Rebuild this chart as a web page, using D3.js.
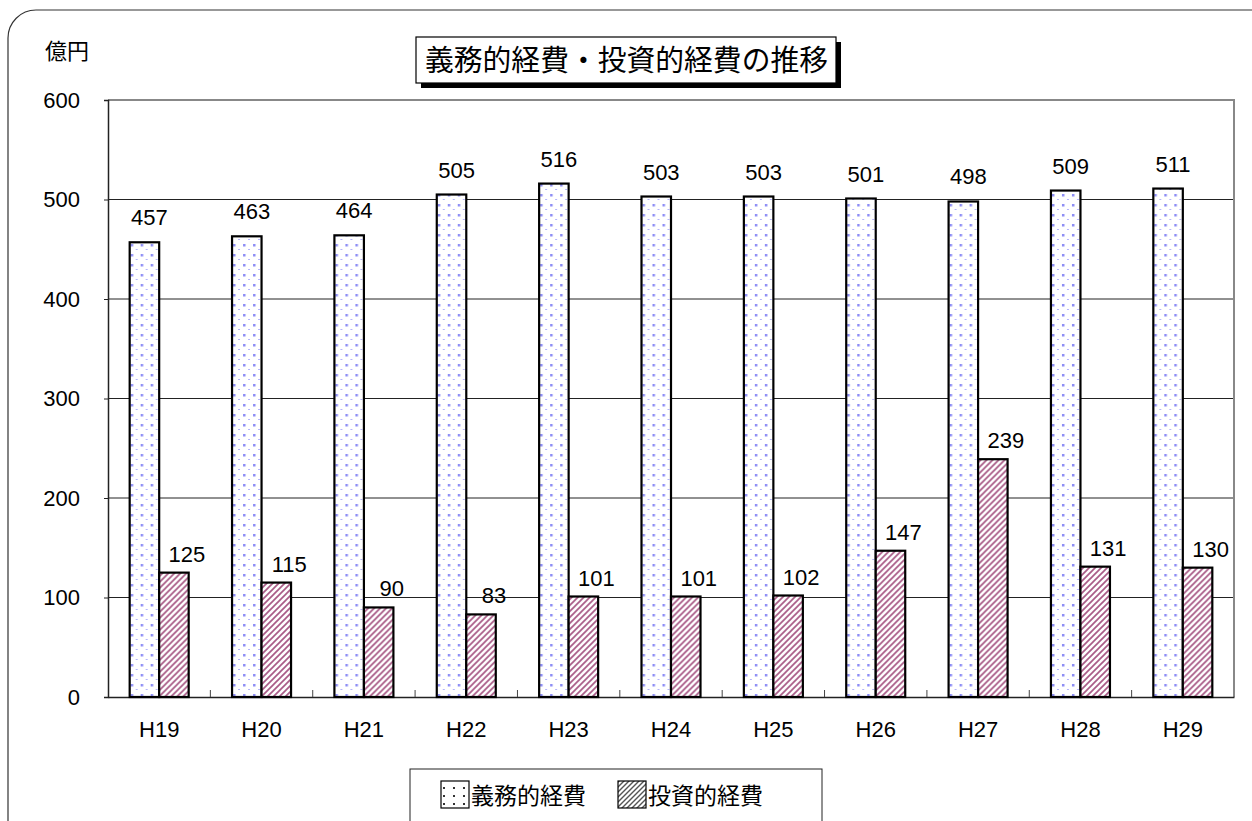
<!DOCTYPE html>
<html lang="ja">
<head>
<meta charset="UTF-8">
<title>義務的経費・投資的経費の推移</title>
<script src="https://d3js.org/d3.v7.min.js"></script>
<style>
  body { margin: 0; background: #fff; }
  svg { display: block; font-family: "Noto Sans CJK JP", "Noto Sans", sans-serif; }
</style>
</head>
<body>
<div id="chart"></div>
<script>
// data
const years = ["H19", "H20", "H21", "H22", "H23", "H24", "H25", "H26", "H27", "H28", "H29"];
const mandatory = [457, 463, 464, 505, 516, 503, 503, 501, 498, 509, 511];   // 義務的経費
const investment = [125, 115, 90, 83, 101, 101, 102, 147, 239, 131, 130];    // 投資的経費
const seriesNames = ["義務的経費", "投資的経費"];
const yTicks = [0, 100, 200, 300, 400, 500, 600];

const width = 1252, height = 821;
const plot = { left: 108, right: 1234, top: 100, bottom: 697 };
const numFont = "'Liberation Sans', Arial, sans-serif";

const svg = d3.select("#chart").append("svg")
  .attr("width", width).attr("height", height);

// patterns
const defs = svg.append("defs");
const dots = defs.append("pattern").attr("id", "dots")
  .attr("patternUnits", "userSpaceOnUse").attr("width", 10).attr("height", 10);
dots.append("rect").attr("width", 10).attr("height", 10).attr("fill", "#fff");
dots.append("rect").attr("x", 1).attr("y", 4).attr("width", 2.5).attr("height", 2.5).attr("fill", "#8d8df5");
dots.append("rect").attr("x", 6).attr("y", 9).attr("width", 2).attr("height", 1).attr("fill", "#b4b4fb");

const stripes = defs.append("pattern").attr("id", "stripes")
  .attr("patternUnits", "userSpaceOnUse").attr("width", 6).attr("height", 6);
stripes.append("rect").attr("width", 6).attr("height", 6).attr("fill", "#fff");
stripes.append("path").attr("d", "M-1,1 l2,-2 M0,6 l6,-6 M5,7 l2,-2")
  .attr("stroke", "#a85a86").attr("stroke-width", 1.7);

const legDots = defs.append("pattern").attr("id", "legdots")
  .attr("patternUnits", "userSpaceOnUse").attr("width", 10).attr("height", 8);
legDots.append("rect").attr("width", 10).attr("height", 8).attr("fill", "#fff");
legDots.append("rect").attr("x", 3).attr("y", 3).attr("width", 2).attr("height", 2).attr("fill", "#333");

const legStripes = defs.append("pattern").attr("id", "legstripes")
  .attr("patternUnits", "userSpaceOnUse").attr("width", 5).attr("height", 5);
legStripes.append("rect").attr("width", 5).attr("height", 5).attr("fill", "#fff");
legStripes.append("path").attr("d", "M-1,1 l2,-2 M0,5 l5,-5 M4,6 l2,-2")
  .attr("stroke", "#555").attr("stroke-width", 1.4);

// outer rounded frame
svg.append("rect")
  .attr("x", 8).attr("y", 10).attr("width", 1272).attr("height", 840)
  .attr("rx", 28).attr("ry", 28)
  .attr("fill", "none").attr("stroke", "#333").attr("stroke-width", 1.2);

// scales
const x = d3.scaleBand().domain(years).range([plot.left, plot.right]);
const y = d3.scaleLinear().domain([0, 600]).range([plot.bottom, plot.top]);
const barW = 29.5;

// grid lines
svg.append("g").selectAll("line")
  .data(yTicks.filter(d => d > 0 && d < 600))
  .join("line")
  .attr("x1", plot.left).attr("x2", plot.right)
  .attr("y1", d => y(d)).attr("y2", d => y(d))
  .attr("stroke", "#222").attr("stroke-width", 1);

// plot frame top/right (gray)
svg.append("path")
  .attr("d", `M${plot.left},${y(600)} H${plot.right} V${plot.bottom}`)
  .attr("fill", "none").attr("stroke", "#888").attr("stroke-width", 2);

// y axis
const yAxis = svg.append("g")
  .attr("transform", `translate(${plot.left},0)`)
  .call(d3.axisLeft(y).tickValues(yTicks).tickSize(4).tickPadding(24));
yAxis.select(".domain").attr("stroke", "#222").attr("stroke-width", 1.5);
yAxis.selectAll(".tick line").attr("stroke", "#222");
yAxis.selectAll("text").attr("font-size", 22).attr("fill", "#000")
  .attr("font-family", numFont);

// x axis
const xAxis = svg.append("g")
  .attr("transform", `translate(0,${plot.bottom})`)
  .call(d3.axisBottom(x).tickSize(0).tickPadding(24));
xAxis.select(".domain").attr("stroke", "#222").attr("stroke-width", 1.5);
xAxis.selectAll("text").attr("font-size", 22).attr("fill", "#000")
  .attr("font-family", numFont);
// upward tick marks at category boundaries
svg.append("g").selectAll("line")
  .data(years.slice(1))
  .join("line")
  .attr("x1", d => x(d)).attr("x2", d => x(d))
  .attr("y1", plot.bottom).attr("y2", plot.bottom - 7)
  .attr("stroke", "#444").attr("stroke-width", 1);

// bars
const rows = years.map((yr, i) => ({ yr, vals: [mandatory[i], investment[i]] }));
const fills = ["url(#dots)", "url(#stripes)"];
const labelShift = [5, 13];
const labelGap = [17, 11];

const groups = svg.append("g").selectAll("g")
  .data(rows)
  .join("g")
  .attr("transform", d => `translate(${x(d.yr) + x.bandwidth() / 2 - barW},0)`);

groups.selectAll("rect")
  .data(d => d.vals.map((v, k) => ({ v, k })))
  .join("rect")
  .attr("x", d => d.k * barW)
  .attr("y", d => y(d.v))
  .attr("width", barW)
  .attr("height", d => y(0) - y(d.v))
  .attr("fill", d => fills[d.k])
  .attr("stroke", "#000").attr("stroke-width", 2.2);

groups.selectAll("text")
  .data(d => d.vals.map((v, k) => ({ v, k })))
  .join("text")
  .attr("x", d => d.k * barW + barW / 2 + labelShift[d.k])
  .attr("y", d => y(d.v) - labelGap[d.k])
  .attr("text-anchor", "middle")
  .attr("font-size", 22)
  .attr("font-family", numFont)
  .text(d => d.v);

// unit label
svg.append("text").attr("x", 45).attr("y", 59)
  .attr("font-size", 22).text("億円");

// title box with shadow
const tb = { x: 416, y: 37, w: 420, h: 46 };
svg.append("rect").attr("x", tb.x + 5).attr("y", tb.y + 5)
  .attr("width", tb.w).attr("height", tb.h).attr("fill", "#000");
svg.append("rect").attr("x", tb.x).attr("y", tb.y)
  .attr("width", tb.w).attr("height", tb.h)
  .attr("fill", "#fff").attr("stroke", "#000").attr("stroke-width", 1.2);
svg.append("text").attr("x", tb.x + 9).attr("y", tb.y + 34)
  .attr("font-size", 29)
  .attr("textLength", 403).attr("lengthAdjust", "spacingAndGlyphs")
  .text("義務的経費・投資的経費の推移");

// legend
const lg = svg.append("g");
lg.append("rect").attr("x", 410).attr("y", 769).attr("width", 412).attr("height", 60)
  .attr("fill", "#fff").attr("stroke", "#222").attr("stroke-width", 1);
const legItems = [
  { name: seriesNames[0], fill: "url(#legdots)", sx: 441, tx: 471 },
  { name: seriesNames[1], fill: "url(#legstripes)", sx: 618, tx: 648 }
];
legItems.forEach(it => {
  lg.append("rect").attr("x", it.sx).attr("y", 781).attr("width", 28).attr("height", 27)
    .attr("fill", it.fill).attr("stroke", "#000").attr("stroke-width", 1.2);
  lg.append("text").attr("x", it.tx).attr("y", 804).attr("font-size", 23).text(it.name);
});
</script>
</body>
</html>
